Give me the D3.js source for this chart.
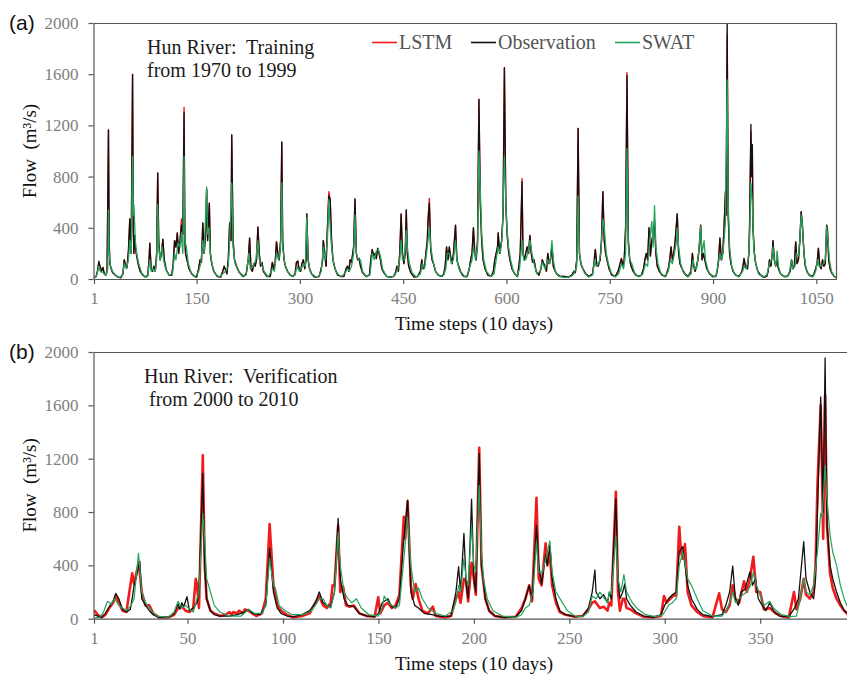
<!DOCTYPE html>
<html>
<head>
<meta charset="utf-8">
<script src="https://cdn.jsdelivr.net/npm/d3@7"></script>
<style>
  body { margin: 0; background: #fff; }
  svg text { font-family: "Liberation Serif", "Times New Roman", serif; white-space: pre; }
</style>
</head>
<body>
<svg id="chart"></svg>
<script>
// ---- data: [time step, flow m3/s] ----
const flowTicks = [0, 400, 800, 1200, 1600, 2000];
const trainTicks = [1, 150, 300, 450, 600, 750, 900, 1050];
const testTicks = [1, 50, 100, 150, 200, 250, 300, 350];

const obsTrain = [[1,10],[4,20],[6,60],[8,140],[10,90],[12,60],[14,90],[16,40],[18,30],[20,60],[22,1164],[23,300],[24,120],[26,80],[28,50],[30,40],[33,25],[36,15],[40,10],[43,40],[45,150],[47,100],[49,90],[51,220],[53,470],[54,300],[55,200],[57,1599],[58,400],[59,200],[60,340],[61,250],[63,180],[65,120],[68,60],[72,30],[76,15],[79,30],[81,150],[82,280],[84,80],[86,60],[88,100],[90,60],[92,200],[93.5,828],[95,300],[97,150],[99,200],[101,310],[103,150],[106,70],[110,30],[114,30],[116,120],[118,300],[120,250],[122,360],[124,200],[126,300],[128,420],[130,350],[131.8,1300],[133,300],[134,200],[136,150],[139,80],[143,40],[147,20],[150,15],[153,80],[155,150],[157,130],[159,437],[161,200],[163,350],[164.6,700],[166,300],[168.5,593],[170,200],[172,120],[175,60],[180,20],[185,15],[188,60],[190,100],[192,70],[194,40],[196,150],[198,440],[200,300],[201,1125],[203,300],[205,150],[208,100],[212,50],[218,20],[222,40],[225,150],[227,320],[229,80],[231,60],[233,120],[235,100],[237,150],[239,406],[241,200],[243,100],[245,130],[247,60],[252,20],[257,20],[260,130],[262,80],[264,120],[266,290],[268,200],[270,150],[272,300],[273.7,1070],[275,300],[277,150],[279,100],[282,60],[286,30],[290,20],[293,40],[295,130],[297,140],[299,70],[301,60],[303,120],[305,150],[307,80],[309,150],[310,508],[312,150],[314,80],[317,40],[322,15],[328,20],[331,80],[333,150],[334,300],[336,200],[338,100],[340,400],[342,650],[344,620],[346,300],[348,150],[351,80],[355,30],[360,20],[364,20],[367,80],[369,100],[371,60],[373,150],[375,130],[378,250],[380,625],[382,200],[384,150],[386,160],[388,100],[391,50],[396,20],[401,30],[403,150],[405,230],[407,180],[409,200],[411,160],[413,240],[415,200],[417,150],[419,80],[422,50],[426,20],[431,15],[436,20],[439,50],[441,100],[443,60],[445,200],[447,508],[449,200],[451,120],[453,200],[454.5,539],[456,200],[458,100],[461,50],[466,15],[471,20],[475,60],[477,150],[479,80],[481,100],[483,200],[485,300],[486,450],[488,590],[490,230],[492,150],[494,120],[497,60],[501,30],[506,20],[509,40],[511,100],[513,250],[515,150],[517,250],[519,170],[521,120],[523,200],[526,420],[528,150],[530,110],[533,60],[538,20],[543,20],[546,80],[548,150],[550,200],[552,400],[554,200],[556,150],[558,300],[560,1404],[562,600],[564,300],[566,150],[569,80],[573,30],[578,20],[581,60],[583,150],[585,200],[587,250],[588,360],[590,200],[593,300],[595,500],[597,1651],[599,600],[601,350],[603,220],[605,150],[608,80],[612,40],[616,20],[618,100],[620,200],[622.6,760],[624,200],[626,150],[628,200],[630,250],[632,200],[634,340],[636,200],[638,130],[640,150],[643,60],[647,30],[650,80],[652,150],[654,120],[656,100],[658,60],[660,200],[662,120],[664,150],[666,260],[668,100],[670,70],[673,40],[678,20],[684,20],[690,15],[695,30],[698,60],[700,50],[702,150],[704,1177],[706,200],[708,120],[711,80],[715,40],[720,20],[725,40],[727,120],[729,230],[731,120],[733,100],[736,150],[738,300],[740,682],[742,300],[744,200],[746,150],[749,80],[753,30],[758,20],[762,60],[765,120],[767,160],[769,100],[771,150],[773,400],[775,1590],[777,300],[779,150],[781,100],[784,60],[788,30],[792,20],[796,30],[799,80],[801,150],[803,200],[805,150],[807,400],[809,180],[811,300],[813,350],[815,450],[817,200],[819,100],[822,60],[826,30],[831,20],[835,80],[837,150],[839,250],[841,150],[843,200],[845,300],[848,508],[850,200],[852,120],[855,80],[859,40],[864,20],[868,60],[870,200],[872,100],[874,60],[876,100],[878,150],[880,250],[882,420],[884,150],[886,200],[888,150],[891,80],[895,40],[900,20],[904,20],[906,60],[908,150],[910,320],[912,150],[914,200],[916,400],[918,682],[919,500],[920.5,2050],[922,500],[924,200],[926,120],[929,60],[933,30],[938,20],[942,60],[944,120],[945,160],[947,100],[950,80],[952,200],[953,400],[955,1208],[956,800],[957,1050],[958,400],[960,200],[962,120],[965,60],[969,30],[974,15],[978,20],[980,60],[982,150],[984,100],[986,200],[987,300],[989,150],[991,100],[993,150],[995,80],[998,40],[1003,20],[1008,20],[1012,60],[1014,150],[1016,80],[1018,100],[1020,290],[1022,120],[1024,150],[1026,300],[1028,526],[1030,400],[1032,200],[1034,100],[1037,50],[1042,20],[1046,30],[1049,80],[1051,120],[1053,240],[1055,100],[1057,80],[1059,150],[1061,100],[1063,120],[1065,420],[1066,400],[1068,150],[1070,80],[1072,50],[1076,20],[1080,10]];

// LSTM follows the observation closely in training; these are the steps where it differs
const lstmTrainDiff = [[8,120],[10,100],[128,470],[131.8,1341],[342,682],[488,630],[622.6,786],[775,1612],[920.5,1900],[955,1150]];

const swatTrain = [[1,5],[5,30],[8,100],[10,60],[14,50],[18,30],[21,80],[22,540],[23,200],[25,100],[28,60],[32,30],[38,10],[42,30],[45,120],[48,80],[51,150],[53,300],[55,200],[57,960],[58,500],[59,580],[61,300],[63,200],[66,120],[70,50],[75,15],[79,20],[82,150],[84,60],[87,80],[90,60],[92,150],[93.5,580],[95,250],[97,150],[100,250],[102,150],[105,80],[110,30],[115,40],[118,200],[120,150],[123,280],[126,250],[128,350],[130,200],[131.8,960],[133,300],[135,250],[138,120],[142,50],[148,15],[153,60],[156,120],[159,300],[161,200],[164.6,720],[166,350],[168,400],[170,200],[173,100],[177,40],[183,15],[188,40],[192,60],[196,100],[198,300],[201,750],[203,250],[206,120],[210,70],[216,20],[222,30],[226,200],[228,80],[232,100],[236,150],[239,300],[241,150],[244,120],[248,60],[254,15],[260,80],[263,60],[266,200],[269,150],[272,250],[273.7,750],[275,250],[278,120],[282,60],[288,20],[293,30],[296,100],[299,60],[302,80],[305,120],[308,100],[310,480],[312,150],[315,60],[320,15],[327,20],[331,60],[334,250],[337,150],[340,300],[342,620],[344,400],[346,250],[349,120],[353,50],[360,15],[366,50],[369,80],[372,60],[375,100],[378,200],[380,500],[382,200],[385,150],[388,150],[391,60],[397,15],[402,40],[405,200],[408,150],[411,220],[414,230],[417,180],[420,80],[425,25],[432,10],[438,30],[442,80],[445,150],[447,300],[449,150],[452,150],[454.5,380],[456,250],[459,120],[463,50],[469,15],[475,40],[478,120],[481,80],[484,200],[486,300],[488,400],[490,250],[493,150],[497,60],[503,20],[509,30],[512,80],[514,200],[517,200],[520,120],[523,150],[526,300],[528,150],[531,80],[536,25],[542,15],[547,100],[550,150],[552,250],[555,150],[558,250],[560,1000],[562,700],[564,350],[567,150],[571,60],[577,20],[582,40],[585,150],[588,250],[591,200],[594,350],[597,960],[598,800],[600,450],[603,250],[606,150],[610,60],[615,20],[619,80],[622.6,300],[625,150],[628,150],[631,200],[634,300],[637,200],[640,120],[644,40],[649,60],[652,130],[656,80],[660,150],[663,120],[666,300],[668,150],[671,60],[676,20],[685,10],[694,20],[698,40],[702,100],[704,650],[706,200],[709,100],[713,50],[719,15],[725,30],[728,150],[730,100],[734,120],[737,200],[740,470],[742,400],[745,200],[748,120],[752,50],[758,15],[763,40],[767,120],[770,80],[773,200],[775,1020],[777,250],[779,150],[782,120],[786,50],[792,15],[798,40],[802,120],[805,100],[808,300],[811,450],[813,250],[815,573],[817,250],[820,120],[824,50],[830,15],[835,60],[838,150],[841,120],[844,200],[847,300],[848,400],[850,250],[853,120],[857,50],[863,15],[868,40],[871,150],[873,80],[876,80],[879,200],[882,410],[884,200],[887,300],[889,150],[893,60],[899,15],[904,20],[907,100],[910,200],[913,150],[916,300],[918,450],[920.5,1555],[922,600],[924,250],[927,100],[931,40],[937,15],[943,60],[945,100],[948,80],[951,150],[953,300],[955,750],[957,600],[959,250],[962,120],[966,40],[972,15],[978,30],[982,120],[985,150],[987,250],[989,150],[991,100],[993,220],[995,100],[998,40],[1004,15],[1010,30],[1014,150],[1016,80],[1019,100],[1021,200],[1024,180],[1026,300],[1028,500],[1030,400],[1032,200],[1035,80],[1039,30],[1045,15],[1049,60],[1052,150],[1054,100],[1057,100],[1060,120],[1063,150],[1065,410],[1067,300],[1069,150],[1072,60],[1076,20],[1080,10]];

const obsTest = [[1,30],[3,20],[5,10],[7,40],[9,90],[11,130],[12.4,190],[14,150],[16,70],[18,50],[20,70],[21,150],[22,250],[23,300],[25,430],[26,150],[28,100],[30,60],[32,30],[35,10],[40,10],[43,40],[45,110],[46,70],[47,120],[48,90],[49.7,165],[51,60],[53,80],[55,120],[56,200],[58,1090],[59,400],[60,150],[62,60],[64,30],[67,20],[72,20],[76,30],[80,50],[82,70],[84,40],[88,30],[91,100],[93,530],[95,200],[97,80],[99,40],[102,20],[106,15],[110,30],[114,60],[117,120],[119,200],[121,120],[123,100],[125,90],[127,200],[128.9,752],[130,300],[132,150],[134,100],[137,90],[140,40],[144,20],[148,15],[150,40],[152,120],[155,150],[157,90],[159,80],[161,150],[163,550],[165.3,889],[167,200],[169,100],[171,80],[174,40],[178,30],[183,15],[188,20],[190.6,200],[192,390],[193,200],[194.8,640],[196,250],[197,150],[198.8,897],[200,300],[201,200],[202.8,1240],[204,400],[206,150],[208,60],[211,20],[216,10],[222,15],[225,60],[227,150],[229,250],[230.5,150],[232.8,700],[234,400],[235.5,260],[237.6,480],[238.5,400],[239.8,550],[241,300],[243,150],[245,60],[248,30],[253,15],[257,20],[260,80],[262,200],[263.4,365],[264,200],[266,150],[268,180],[270,120],[271,200],[272,150],[274.4,900],[275.5,300],[276.5,150],[278,200],[279,260],[280,150],[282,100],[285,50],[289,20],[294,10],[298,30],[300,100],[302,150],[304,180],[306,200],[307.6,500],[309.4,540],[310.6,400],[312,250],[314,150],[317,70],[320,30],[325,15],[330,30],[332,100],[334,200],[335.6,395],[337,150],[338.5,100],[340,200],[342,220],[344.6,350],[346,250],[347.5,300],[349,150],[351,100],[353,60],[355,120],[357,60],[360,20],[365,15],[368,80],[370,150],[372.8,577],[374,300],[376,200],[378,150],[379,300],[380,800],[381.7,1663],[383,800],[384,1955],[385,700],[386.6,400],[388,300],[390,200],[392,120],[394,60],[396,40]];

const lstmTest = [[1,65],[3,30],[5,10],[7,30],[9,80],[11,120],[12.5,170],[14,120],[16,60],[18,50],[19,150],[21,340],[22,260],[23,330],[24.5,420],[26,200],[28,100],[30,100],[32,40],[35,10],[40,10],[43,30],[45,80],[47,90],[49,60],[51,50],[53,80],[54.3,300],[55,250],[56,80],[58,1226],[59,400],[60,150],[62,60],[64,40],[67,20],[70,30],[72,50],[73,30],[74,50],[76,40],[77,60],[79,40],[80,70],[82,60],[84,40],[86,20],[89,40],[91,150],[93,710],[95,250],[97,100],[99,60],[102,30],[105,10],[110,20],[114,40],[117,120],[119,170],[121,100],[123,80],[125,120],[126,250],[127,250],[128.9,700],[130,200],[131.5,240],[133,100],[135,90],[137,100],[140,40],[144,20],[148,15],[149.9,160],[151,40],[153,100],[155,120],[157,80],[159,100],[161,180],[163.3,764],[164,600],[165.3,880],[167,250],[168,150],[169.5,260],[171,150],[173,60],[176,40],[178.5,90],[180,20],[185,10],[188,20],[190.6,150],[192,200],[193,120],[194.8,300],[196,280],[197,130],[198.8,420],[200,300],[201,180],[202.8,1281],[204,400],[206,150],[208,60],[211,20],[216,10],[222,15],[225,80],[227,150],[229,250],[230.5,130],[232.8,906],[234,300],[235.5,250],[237.6,565],[238.5,400],[239.8,500],[241,250],[243,120],[245,50],[248,30],[253,15],[257,20],[260,70],[262,120],[263.4,130],[266,80],[268,90],[270,60],[271,120],[272,100],[274.4,951],[275.5,200],[276.5,60],[278,150],[279,150],[280,80],[282,70],[285,40],[289,15],[294,10],[298,20],[299.6,170],[301,120],[303,150],[305,180],[306,170],[307.6,689],[308.5,500],[309.4,450],[310.6,560],[312,200],[314,100],[317,50],[320,20],[325,10],[328.5,190],[330,70],[332,50],[334,100],[335.6,250],[337,150],[339,120],[341.5,280],[343,200],[344.6,300],[346.4,465],[348,200],[350,200],[352,70],[355,80],[358,40],[362,15],[365,10],[367.7,200],[369,70],[371,150],[372.8,300],[374,180],[376,150],[378,200],[379,400],[380,1000],[381.7,1600],[383,600],[384,1675],[385,700],[386.6,340],[388,230],[390,150],[392,100],[394,60],[396,30]];

const swatTest = [[1,5],[4,10],[6,50],[8,130],[10,110],[12,150],[14,100],[16,80],[18,60],[20,90],[22,150],[24.3,490],[25,380],[26,200],[28,120],[31,60],[34,20],[40,10],[43,50],[45,130],[47,80],[49,100],[51,70],[53,50],[55,150],[56,200],[58,790],[59,600],[60,300],[62,200],[64,100],[67,50],[72,20],[78,20],[82,70],[85,40],[89,40],[91,100],[93,450],[95,250],[96,230],[98,100],[101,60],[105,30],[110,30],[114,50],[117,100],[119,150],[121,150],[123,100],[125,80],[127,200],[128.9,650],[130,400],[132,200],[134,150],[136,120],[138.5,150],[141,80],[145,30],[150,20],[152,80],[153,170],[155,130],[157,100],[159,80],[161,100],[163,400],[165.3,760],[167,400],[169,200],[171,230],[173,150],[176,80],[180,40],[185,20],[189,60],[191,150],[192,250],[193,200],[194.8,450],[196,300],[197,250],[198.8,700],[200,400],[201,350],[202.8,1000],[204,500],[205,300],[207,150],[210,60],[215,20],[222,10],[225,30],[227,80],[229,100],[231,200],[232.8,580],[234,350],[236,350],[237.6,450],[239.8,584],[241,350],[243,200],[246,130],[249,60],[253,20],[257,15],[260,50],[262,170],[264,150],[266,200],[268,160],[270,120],[271,200],[272,180],[274.4,620],[275.5,300],[277,200],[278.6,330],[280,200],[283,120],[286,70],[290,30],[295,15],[299,30],[302,100],[304,120],[306,150],[307.6,400],[309.4,500],[310.6,420],[312,300],[314,250],[317,150],[320,60],[325,20],[330,20],[332,60],[334,120],[335.6,200],[337,120],[339,150],[341,180],[343,200],[345,250],[346.4,350],[348,250],[350,180],[352,100],[355,130],[357,80],[361,30],[366,15],[369,20],[371,150],[372.8,300],[374,200],[376,180],[378,250],[380,500],[381.7,790],[382.5,760],[384,1150],[385,900],[386.6,625],[388,500],[390,400],[392,250],[394,150],[396,80]];

const lstmDiffMap = new Map(lstmTrainDiff);
const lstmTrain = obsTrain.map(([s, v]) => [s, lstmDiffMap.has(s) ? lstmDiffMap.get(s) : v]);

const COL = { lstm: "#f01c1c", obs: "#111111", swat: "#23a35c", axis: "#555", tick: "#808080" };

const svg = d3.select("#chart").attr("width", 847).attr("height", 676);

function drawPanel(p) {
  const x = d3.scaleLinear().domain(p.xDomain).range([p.left, p.right]);
  const y = d3.scaleLinear().domain([0, 2000]).range([p.bottom, p.top]);
  const g = svg.append("g");

  const clipId = "clip-" + p.key;
  svg.append("clipPath").attr("id", clipId)
    .append("rect").attr("x", p.left).attr("y", p.top)
    .attr("width", Math.min(p.right, 847) - p.left).attr("height", p.bottom - p.top + 2);

  const line = d3.line().x(d => x(d[0])).y(d => y(d[1]));
  const lines = g.append("g").attr("clip-path", `url(#${clipId})`);
  p.series.forEach(s => {
    lines.append("path").datum(s.data)
      .attr("d", line).attr("fill", "none")
      .attr("stroke", s.color).attr("stroke-width", s.width)
      .attr("stroke-linejoin", "round");
  });

  // frame
  g.append("line").attr("x1", p.left).attr("x2", p.frameRight).attr("y1", p.top + 0.5).attr("y2", p.top + 0.5)
    .attr("stroke", COL.axis).attr("stroke-width", 1.2);
  if (p.frameRight < 847) {
    g.append("line").attr("x1", p.frameRight).attr("x2", p.frameRight).attr("y1", p.top).attr("y2", p.bottom)
      .attr("stroke", COL.axis).attr("stroke-width", 1.2);
  }

  const ax = g.append("g").attr("transform", `translate(0,${p.bottom})`)
    .call(d3.axisBottom(x).tickValues(p.xTicks).tickSize(5).tickSizeOuter(0).tickPadding(8).tickFormat(d3.format("d")));
  const ay = g.append("g").attr("transform", `translate(${p.left - 0.5},0)`)
    .call(d3.axisLeft(y).tickValues(flowTicks).tickSize(5).tickSizeOuter(0).tickPadding(10).tickFormat(d3.format("d")));
  [ax, ay].forEach(a => {
    a.selectAll("path, line").attr("stroke", COL.axis).attr("stroke-width", 1.2);
    a.selectAll("text").attr("fill", COL.tick).style("font-size", "17px")
      .style("font-family", '"Liberation Serif", "Times New Roman", serif');
  });
  ax.select(".domain").attr("d", `M${p.left},0.5H${Math.min(p.right, 847)}`);

  g.append("text").attr("x", 474).attr("y", p.bottom + 51).attr("text-anchor", "middle")
    .style("font-size", "19px").attr("fill", "#111").text("Time steps (10 days)");

  g.append("text")
    .attr("transform", `translate(36,${(p.top + p.bottom) / 2}) rotate(-90)`)
    .attr("text-anchor", "middle").style("font-size", "19px").attr("fill", "#111")
    .text("Flow  (m³/s)");

  g.append("text").attr("x", 9).attr("y", p.top + 7)
    .style("font-family", '"Liberation Sans", Arial, sans-serif').style("font-size", "21px")
    .attr("fill", "#111").text(p.tag);

  p.note.forEach((t, i) => {
    g.append("text").attr("x", p.noteX).attr("y", p.noteY + i * 23)
      .style("font-size", "20px").attr("fill", "#1a1a1a").text(t);
  });
}

drawPanel({
  tag: "(a)", key: "train", left: 94, right: 837, top: 23, bottom: 279, frameRight: 836.5,
  xDomain: [1, 1080], xTicks: trainTicks,
  series: [
    { data: lstmTrain, color: COL.lstm, width: 1.4 },
    { data: obsTrain, color: COL.obs, width: 1.3 },
    { data: swatTrain, color: COL.swat, width: 1.3 }
  ],
  note: ["Hun River:  Training", "from 1970 to 1999"], noteX: 147, noteY: 54
});

drawPanel({
  tag: "(b)", key: "test", left: 94, right: 848, top: 352, bottom: 618.7, frameRight: 847,
  xDomain: [1, 396], xTicks: testTicks,
  series: [
    { data: lstmTest, color: COL.lstm, width: 2.6 },
    { data: obsTest, color: COL.obs, width: 1.3 },
    { data: swatTest, color: COL.swat, width: 1.2 }
  ],
  note: ["Hun River:  Verification", " from 2000 to 2010"], noteX: 144, noteY: 383
});

// legend for panel (a)
const legendItems = [
  { name: "LSTM", color: COL.lstm, x: 372 },
  { name: "Observation", color: COL.obs, x: 471 },
  { name: "SWAT", color: COL.swat, x: 615 }
];
const lg = svg.append("g");
legendItems.forEach(d => {
  lg.append("line").attr("x1", d.x).attr("x2", d.x + 25).attr("y1", 42.5).attr("y2", 42.5)
    .attr("stroke", d.color).attr("stroke-width", 1.6);
  lg.append("text").attr("x", d.x + 27).attr("y", 49).style("font-size", "20px")
    .attr("fill", "#555").text(d.name);
});
</script>
</body>
</html>
